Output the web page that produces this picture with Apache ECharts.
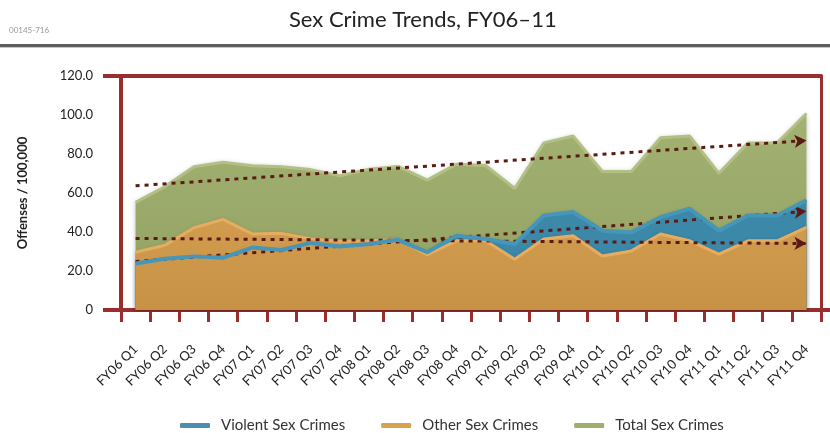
<!DOCTYPE html>
<html>
<head>
<meta charset="utf-8">
<title>Sex Crime Trends, FY06–11</title>
<script src="https://cdn.jsdelivr.net/npm/echarts@6/dist/echarts.min.js"></script>
<style>
  html, body { margin: 0; padding: 0; background: #fff; }
  #chart { width: 830px; height: 433px; }
</style>
</head>
<body>
<div id="chart"></div>
<script>
// quarters on the x axis
var quarters = ['FY06 Q1', 'FY06 Q2', 'FY06 Q3', 'FY06 Q4', 'FY07 Q1', 'FY07 Q2', 'FY07 Q3', 'FY07 Q4',
  'FY08 Q1', 'FY08 Q2', 'FY08 Q3', 'FY08 Q4', 'FY09 Q1', 'FY09 Q2', 'FY09 Q3', 'FY09 Q4',
  'FY10 Q1', 'FY10 Q2', 'FY10 Q3', 'FY10 Q4', 'FY11 Q1', 'FY11 Q2', 'FY11 Q3', 'FY11 Q4'];

// offenses per 100,000
var totalCrimes = [55.2, 63.2, 73.5, 75.8, 74.0, 73.5, 72.0, 68.8, 72.2, 73.6, 66.6, 74.8,
  74.1, 62.3, 85.7, 89.2, 71.0, 71.0, 88.3, 89.2, 70.1, 85.7, 85.7, 100.8];
var violentCrimes = [23.8, 26.3, 27.5, 26.8, 32.0, 30.8, 34.4, 32.6, 33.8, 36.0, 29.6, 38.1,
  36.4, 33.8, 48.5, 50.2, 40.7, 39.8, 47.6, 51.9, 40.7, 48.5, 48.5, 56.3];
var otherCrimes = [29.6, 33.2, 42.2, 46.5, 39.0, 39.3, 36.6, 35.3, 35.5, 36.2, 28.4, 35.5,
  35.5, 26.0, 36.4, 38.1, 27.7, 30.3, 39.0, 35.5, 28.6, 35.5, 35.5, 42.4];

// trend lines: start / end value
var totalTrend = [63.7, 86.9];
var violentTrend = [24.9, 50.6];
var otherTrend = [36.7, 34.1];

var yTicks = [0, 20, 40, 60, 80, 100, 120];

var frameColor = '#9b2d2d';
var trendColor = '#5c1a14';
var font = 'Lato, "Open Sans", sans-serif';

function trend(vals) {
  return [{ coord: [quarters[0], vals[0]] }, { coord: [quarters[quarters.length - 1], vals[1]] }];
}

var chart = echarts.init(document.getElementById('chart'));

var option = {
  animation: false,
  textStyle: { fontFamily: font },
  title: {
    text: 'Sex Crime Trends, FY06–11',
    left: 284,
    top: 4,
    textStyle: { fontFamily: font, fontSize: 22, fontWeight: 'normal', color: '#222' }
  },
  graphic: [
    { type: 'text', left: 9, top: 26, style: { text: '00145-716', fill: '#999', fontSize: 8, fontFamily: font } },
    { type: 'rect', shape: { x: 0, y: 44, width: 830, height: 3 }, style: { fill: '#5e5e5e' } },
    { type: 'rect', shape: { x: 0, y: 47, width: 830, height: 1 }, style: { fill: '#c8c8c8' } },
    // top frame line runs a little past the left axis
    { type: 'rect', shape: { x: 103, y: 74, width: 20, height: 4 }, style: { fill: frameColor }, z: 10 },
    // bottom axis runs to the edge
    { type: 'rect', shape: { x: 819, y: 308, width: 11, height: 4 }, style: { fill: frameColor }, z: 10 }
  ],
  legend: {
    data: [
      { name: 'Violent Sex Crimes', itemStyle: { color: '#4a8fae' } },
      { name: 'Other Sex Crimes', itemStyle: { color: '#d9a24f' } },
      { name: 'Total Sex Crimes', itemStyle: { color: '#9fae6c' } }
    ],
    left: 175,
    top: 413,
    icon: 'roundRect',
    itemWidth: 30,
    itemHeight: 5,
    itemGap: 36,
    textStyle: { fontFamily: font, fontSize: 15, color: '#333', padding: [0, 0, 0, 6] }
  },
  grid: { left: 121, right: 9, top: 76, bottom: 123 },
  xAxis: [{
    type: 'category',
    data: quarters,
    boundaryGap: true,
    axisLine: { lineStyle: { color: frameColor, width: 4 } },
    axisTick: { show: true, interval: 0, length: 12, lineStyle: { color: frameColor, width: 3 } },
    axisLabel: { interval: 0, rotate: 45, margin: 37, fontSize: 13, color: '#222', fontFamily: font }
  }, {
    type: 'category',
    data: quarters,
    position: 'top',
    boundaryGap: true,
    axisLine: { onZero: false, lineStyle: { color: frameColor, width: 4 } },
    axisTick: { show: false },
    axisLabel: { show: false }
  }],
  yAxis: [{
    type: 'value',
    min: yTicks[0],
    max: yTicks[yTicks.length - 1],
    interval: 20,
    name: 'Offenses / 100,000',
    nameLocation: 'middle',
    nameGap: 92,
    nameTextStyle: { fontFamily: font, fontSize: 13, fontWeight: 'bold', color: '#222' },
    axisLine: { show: true, lineStyle: { color: frameColor, width: 4 } },
    axisTick: { show: true, customValues: [0], length: 18, lineStyle: { color: frameColor, width: 4 } },
    splitLine: { show: false },
    axisLabel: {
      margin: 28,
      fontSize: 13,
      color: '#222',
      fontFamily: font,
      formatter: function (v) { return v === 0 ? '0' : v.toFixed(1); }
    }
  }, {
    type: 'value',
    position: 'right',
    min: 0,
    max: 120,
    axisLine: { show: true, onZero: false, lineStyle: { color: frameColor, width: 3 } },
    axisTick: { show: false },
    axisLabel: { show: false },
    splitLine: { show: false }
  }],
  series: [
    {
      name: 'Total Sex Crimes',
      type: 'line',
      data: totalCrimes,
      symbol: 'none',
      z: 2,
      itemStyle: { color: '#9fae6c' },
      lineStyle: { color: '#b2c083', width: 3 },
      areaStyle: {
        opacity: 1,
        color: new echarts.graphic.LinearGradient(0, 0, 0, 1, [
          { offset: 0, color: '#a3b273' },
          { offset: 1, color: '#91a162' }
        ]),
        shadowColor: 'rgba(0,0,0,0.25)',
        shadowBlur: 5
      }
    },
    {
      name: 'Violent Sex Crimes',
      type: 'line',
      data: violentCrimes,
      symbol: 'none',
      z: 3,
      itemStyle: { color: '#4a8fae' },
      lineStyle: { color: '#4d9cbf', width: 3 },
      areaStyle: { opacity: 1, color: '#3b88a8', shadowColor: 'rgba(0,0,0,0.2)', shadowBlur: 4 }
    },
    {
      name: 'Other Sex Crimes',
      type: 'line',
      data: otherCrimes,
      symbol: 'none',
      z: 4,
      itemStyle: { color: '#d9a24f' },
      lineStyle: { color: '#e6ad60', width: 3 },
      areaStyle: {
        opacity: 1,
        color: new echarts.graphic.LinearGradient(0, 0, 0, 1, [
          { offset: 0, color: '#d29c4f' },
          { offset: 1, color: '#c89246' }
        ]),
        shadowColor: 'rgba(0,0,0,0.2)',
        shadowBlur: 4
      }
    },
    {
      // violent line drawn again over the orange area, plus the trend arrows
      name: 'Violent Sex Crimes',
      type: 'line',
      data: violentCrimes,
      symbol: 'none',
      z: 5,
      itemStyle: { color: '#4a8fae' },
      lineStyle: { color: '#4596b8', width: 4 },
      markLine: {
        silent: true,
        symbol: ['none', 'arrow'],
        symbolSize: [10, 12],
        label: { show: false },
        lineStyle: { color: trendColor, width: 3, type: [4, 5], opacity: 1 },
        data: [trend(totalTrend), trend(violentTrend), trend(otherTrend)]
      }
    }
  ]
};

chart.setOption(option);
</script>
</body>
</html>
